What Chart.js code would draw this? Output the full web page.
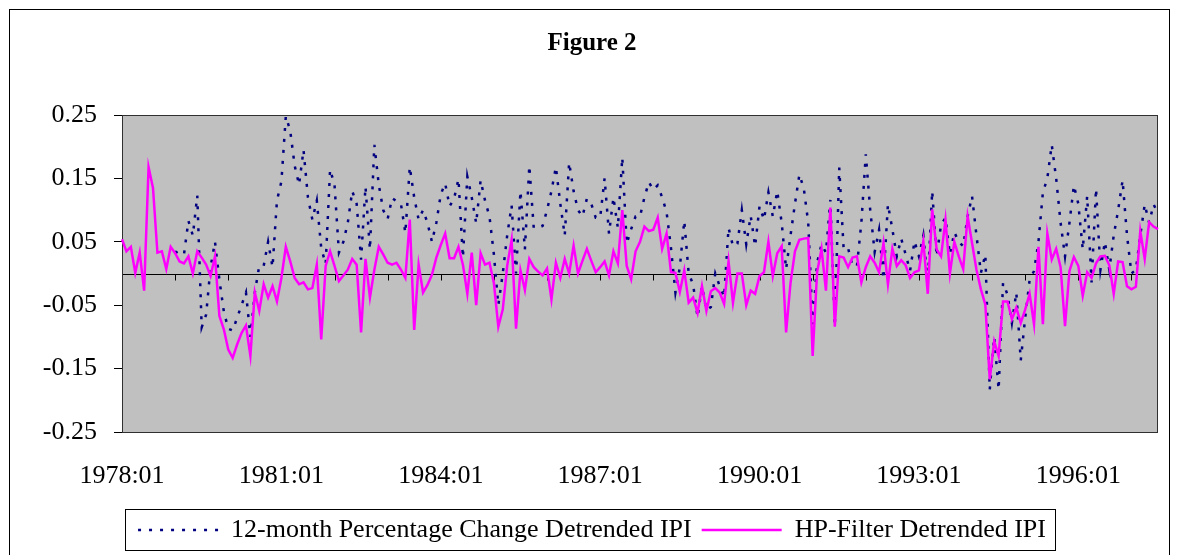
<!DOCTYPE html>
<html lang="en">
<head>
    <meta charset="UTF-8">
    <title>Figure 2</title>
    <script src="https://cdn.jsdelivr.net/npm/chart.js"></script>
    <style>
        body {
            margin: 0;
            background: #fff;
        }
        .chart-container {
            width: 1179px;
            height: 555px;
            position: relative;
        }
    </style>
</head>
<body>
    <div class="chart-container">
        <canvas id="figureChart"></canvas>
    </div>

    <script>
        // Monthly axis: 1978:01 .. 1997:07
        var startYear = 1978;
        var monthCount = 235;
        var tickLabels = ['1978:01', '1981:01', '1984:01', '1987:01', '1990:01', '1993:01', '1996:01'];

        // 12-month percentage change detrended IPI (first year has no value)
        var pctChange = [
            null, null, null, null, null, null, null, null, null, null, null, null,
            0.035, 0.03, 0.03, 0.083, 0.06, 0.123, -0.085, -0.065, 0.01, 0.05, -0.01, -0.06,
            -0.087, -0.09, -0.07, -0.05, -0.03, -0.1, -0.03, 0.012, 0.012, 0.05, 0.01, 0.115,
            0.145, 0.248, 0.225, 0.17, 0.14, 0.195, 0.12, 0.085, 0.115, 0.04, 0.015, 0.164,
            0.14, 0.033, 0.05, 0.08, 0.13, 0.11, 0.022, 0.137, 0.038, 0.203, 0.14, 0.1,
            0.086, 0.119, 0.114, 0.11, 0.064, 0.168, 0.12, 0.085, 0.1, 0.08, 0.05, 0.08,
            0.125, 0.142, 0.106, 0.118, 0.149, 0.025, 0.153, 0.12, 0.079, 0.147, 0.115, 0.09,
            0.03, -0.05, 0.0, 0.06, 0.107, 0.0, 0.13, 0.038, 0.17, 0.072, 0.072, 0.075,
            0.1, 0.13, 0.168, 0.11, 0.06, 0.175, 0.13, 0.1, 0.09, 0.118, 0.11, 0.088,
            0.088, 0.15, 0.063, 0.12, 0.072, 0.183, 0.047, 0.07, 0.09, 0.09, 0.12, 0.144,
            0.132, 0.139, 0.12, 0.097, 0.04, -0.03, 0.01, 0.083, 0.0, -0.017, -0.069, -0.02,
            -0.058, -0.053, 0.0, -0.02, -0.037, 0.072, 0.043, 0.047, 0.1, 0.046, 0.091, 0.043,
            0.106, 0.085, 0.128, 0.09, 0.13, 0.08, 0.007, 0.06, 0.11, 0.156, 0.134, 0.08,
            -0.08, 0.017, 0.046, 0.033, 0.116, -0.083, 0.167, 0.038, 0.04, 0.012, 0.012, 0.08,
            0.188, 0.1, 0.034, 0.069, -0.009, 0.109, 0.07, 0.027, 0.055, 0.03, 0.004, 0.051,
            0.027, 0.06, -0.015, 0.13, 0.027, 0.077, 0.088, 0.03, 0.065, 0.05, 0.043, 0.09,
            0.122, 0.06, 0.001, 0.03, -0.183, -0.1, -0.183, -0.015, -0.033, -0.078, -0.03, -0.137,
            -0.07, -0.01, 0.004, 0.05, 0.128, 0.15, 0.203, 0.15, 0.08, 0.027, 0.08, 0.139,
            0.11, 0.038, 0.122, -0.014, 0.134, 0.006, 0.05, 0.006, 0.06, 0.1, 0.147, 0.06,
            0.0, 0.006, 0.06, 0.109, 0.08, 0.109, 0.095
        ];

        // HP-filter detrended IPI
        var hpFilter = [
            0.054, 0.035, 0.042, 0.001, 0.033, -0.027, 0.168, 0.135, 0.033, 0.035, 0.007, 0.042,
            0.032, 0.019, 0.016, 0.027, 0.0, 0.035, 0.025, 0.014, -0.004, 0.027, -0.067, -0.088,
            -0.12, -0.133, -0.112, -0.094, -0.082, -0.13, -0.03, -0.059, -0.017, -0.038, -0.02, -0.044,
            -0.007, 0.042, 0.019, -0.007, -0.017, -0.014, -0.025, -0.023, 0.014, -0.104, 0.012, 0.035,
            0.012, -0.012, -0.003, 0.006, 0.023, 0.014, -0.093, 0.023, -0.038, 0.006, 0.042, 0.03,
            0.017, 0.014, 0.017, 0.006, -0.007, 0.085, -0.089, 0.014, -0.03, -0.018, -0.002, 0.025,
            0.045, 0.063, 0.024, 0.024, 0.042, 0.014, -0.032, 0.033, -0.05, 0.032, 0.014, 0.017,
            -0.015, -0.084, -0.057, 0.012, 0.053, -0.087, 0.005, -0.026, 0.023, 0.01, 0.003, -0.003,
            0.008, -0.041, 0.017, -0.007, 0.023, 0.0, 0.044, 0.0, 0.02, 0.039, 0.02, 0.002,
            0.01, 0.019, -0.003, 0.035, 0.016, 0.1, 0.012, -0.009, 0.035, 0.05, 0.074, 0.067,
            0.069, 0.088, 0.039, 0.063, 0.002, 0.001, -0.029, 0.005, -0.046, -0.038, -0.062, -0.02,
            -0.059, -0.028, -0.023, -0.03, -0.048, 0.019, -0.046, 0.0, 0.0, -0.05, -0.027, -0.032,
            -0.004, 0.002, 0.05, -0.004, 0.032, 0.043, -0.093, -0.015, 0.035, 0.053, 0.055, 0.056,
            -0.13, 0.002, 0.039, -0.027, 0.104, -0.084, 0.027, 0.025, 0.01, 0.025, 0.027, -0.014,
            0.01, 0.027, 0.017, 0.002, 0.048, -0.017, 0.039, 0.012, 0.021, 0.013, -0.007, 0.002,
            0.005, 0.051, -0.032, 0.101, 0.038, 0.027, 0.085, 0.0, 0.05, 0.027, 0.007, 0.09,
            0.048, 0.006, -0.025, -0.049, -0.167, -0.107, -0.13, -0.044, -0.044, -0.072, -0.054, -0.078,
            -0.057, -0.032, -0.08, 0.042, -0.08, 0.063, 0.022, 0.039, 0.01, -0.083, 0.004, 0.026,
            0.012, -0.035, 0.002, -0.007, 0.016, 0.027, 0.028, 0.013, -0.032, 0.019, 0.018, -0.02,
            -0.025, -0.021, 0.067, 0.023, 0.081, 0.074, 0.07
        ];

        var labels = [];
        for (var m = 0; m < monthCount; m++) {
            var yr = startYear + Math.floor(m / 12);
            var mo = (m % 12) + 1;
            labels.push(yr + ':' + (mo < 10 ? '0' + mo : mo));
        }

        var serif = "'Liberation Serif', 'Times New Roman', serif";

        // grey plot area, zero line with yearly ticks, frames
        var framePlugin = {
            id: 'frame',
            beforeDraw: function (chart) {
                var ctx = chart.ctx, a = chart.chartArea;
                ctx.save();
                ctx.fillStyle = '#ffffff';
                ctx.fillRect(0, 0, chart.width, chart.height);
                ctx.fillStyle = '#c0c0c0';
                ctx.fillRect(a.left, a.top, a.right - a.left, a.bottom - a.top);
                ctx.restore();
            },
            beforeDatasetsDraw: function (chart) {
                var ctx = chart.ctx, a = chart.chartArea;
                var x = chart.scales.x, y = chart.scales.y;
                var y0 = Math.round(y.getPixelForValue(0)) + 0.5;
                ctx.save();
                ctx.strokeStyle = '#000000';
                ctx.lineWidth = 1;
                ctx.beginPath();
                ctx.moveTo(a.left, y0);
                ctx.lineTo(a.right, y0);
                for (var i = 12; i < labels.length; i += 12) {
                    var px = Math.round(x.getPixelForValue(i)) + 0.5;
                    ctx.moveTo(px, y0);
                    ctx.lineTo(px, y0 + 6);
                }
                ctx.stroke();
                ctx.strokeStyle = '#303030';
                ctx.strokeRect(Math.round(a.left) + 0.5, Math.round(a.top) + 0.5,
                    Math.round(a.right - a.left) - 1, Math.round(a.bottom - a.top));
                ctx.restore();
            },
            afterDraw: function (chart) {
                var ctx = chart.ctx;
                ctx.save();
                ctx.strokeStyle = '#000000';
                ctx.lineWidth = 1;
                ctx.strokeRect(9.5, 9.5, chart.width - 19, chart.height + 20);
                var boxes = chart.legend.legendHitBoxes;
                if (boxes && boxes.length) {
                    var first = boxes[0], last = boxes[boxes.length - 1];
                    var l = Math.round(first.left) - 12.5;
                    var r = Math.round(last.left + last.width) + 9.5;
                    var t = Math.round(first.top) - 7.5;
                    var b = Math.round(first.top + first.height) + 7.5;
                    ctx.strokeRect(l, t, r - l, b - t);
                }
                ctx.restore();
            }
        };

        // legend samples keep each dataset's own dash and width
        function legendLabels(chart) {
            var items = Chart.defaults.plugins.legend.labels.generateLabels(chart);
            items.forEach(function (item) {
                var ds = chart.data.datasets[item.datasetIndex];
                item.lineDash = ds.borderDash || [];
                item.lineWidth = ds.borderWidth;
                item.strokeStyle = ds.borderColor;
            });
            return items;
        }

        var ctx = document.getElementById('figureChart').getContext('2d');
        var figureChart = new Chart(ctx, {
            type: 'line',
            data: {
                labels: labels,
                datasets: [{
                    label: '12-month Percentage Change Detrended IPI',
                    data: pctChange,
                    borderColor: '#000080',
                    backgroundColor: '#000080',
                    borderWidth: 2.5,
                    borderDash: [3, 8],
                    borderCapStyle: 'butt',
                    pointRadius: 0,
                    tension: 0,
                    fill: false,
                    order: 1
                }, {
                    label: 'HP-Filter Detrended IPI',
                    data: hpFilter,
                    borderColor: '#ff00ff',
                    backgroundColor: '#ff00ff',
                    borderWidth: 2.5,
                    pointRadius: 0,
                    tension: 0,
                    fill: false,
                    order: 0
                }]
            },
            options: {
                responsive: true,
                maintainAspectRatio: false,
                animation: false,
                layout: {
                    padding: { left: 24, right: 19, top: 0, bottom: 2 }
                },
                plugins: {
                    title: {
                        display: true,
                        text: 'Figure 2',
                        color: '#000',
                        font: { family: serif, size: 25, weight: 'bold' },
                        padding: { top: 29, bottom: 56 }
                    },
                    legend: {
                        display: true,
                        position: 'bottom',
                        labels: {
                            color: '#000',
                            font: { family: serif, size: 26 },
                            usePointStyle: true,
                            pointStyle: 'line',
                            pointStyleWidth: 80,
                            padding: 10,
                            generateLabels: legendLabels,
                            sort: function (a, b) { return a.datasetIndex - b.datasetIndex; }
                        }
                    },
                    tooltip: { enabled: false }
                },
                scales: {
                    x: {
                        type: 'category',
                        offset: false,
                        grid: { display: false },
                        border: { display: false },
                        ticks: {
                            autoSkip: false,
                            maxRotation: 0,
                            minRotation: 0,
                            padding: 21,
                            color: '#000',
                            font: { family: serif, size: 26 },
                            callback: function (value, index) {
                                var lab = labels[index];
                                return tickLabels.indexOf(lab) >= 0 ? lab : '';
                            }
                        },
                        afterFit: function (scale) { scale.height = 75; }
                    },
                    y: {
                        min: -0.25,
                        max: 0.25,
                        grid: {
                            drawOnChartArea: false,
                            drawTicks: true,
                            tickLength: 8,
                            color: '#000'
                        },
                        border: { display: true, color: '#000', width: 1 },
                        ticks: {
                            stepSize: 0.1,
                            padding: 17,
                            color: '#000',
                            font: { family: serif, size: 26 },
                            callback: function (value) { return value.toFixed(2); }
                        },
                        afterFit: function (scale) { scale.width = 98; }
                    }
                }
            },
            plugins: [framePlugin]
        });
    </script>
</body>
</html>
